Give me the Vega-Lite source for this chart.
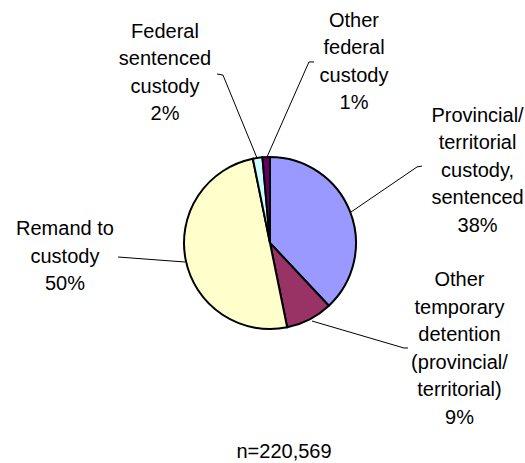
{
  "$schema": "https://vega.github.io/schema/vega-lite/v6.json",
  "autosize": {"type": "none"},
  "width": 510,
  "height": 440,
  "padding": {"left": 15, "top": 23, "right": 0, "bottom": 0},
  "background": "white",
  "view": {"stroke": null},
  "config": {"font": "Liberation Sans"},
  "datasets": {
    "slices": [
      {"category": "Provincial/territorial custody, sentenced", "pct": 38.0, "ord": 1},
      {"category": "Other temporary detention (provincial/territorial)", "pct": 8.8, "ord": 2},
      {"category": "Remand to custody", "pct": 50.0, "ord": 3},
      {"category": "Federal sentenced custody", "pct": 1.8, "ord": 4},
      {"category": "Other federal custody", "pct": 1.4, "ord": 5}
    ],
    "leaders": [
      {"label": "fed", "seq": 1, "x": -61.6, "y": 196.5},
      {"label": "fed", "seq": 2, "x": -54.7, "y": 195.3},
      {"label": "fed", "seq": 3, "x": -15.1, "y": 98.8},
      {"label": "ofed", "seq": 1, "x": 51.2, "y": 210.5},
      {"label": "ofed", "seq": 2, "x": 45.3, "y": 210.5},
      {"label": "ofed", "seq": 3, "x": -3.5, "y": 100},
      {"label": "prov", "seq": 1, "x": 94.2, "y": 36},
      {"label": "prov", "seq": 2, "x": 170.9, "y": 88.4},
      {"label": "prov", "seq": 3, "x": 176.7, "y": 89.5},
      {"label": "temp", "seq": 1, "x": 48.8, "y": -90.7},
      {"label": "temp", "seq": 2, "x": 155.8, "y": -122.1},
      {"label": "temp", "seq": 3, "x": 160.5, "y": -122.1},
      {"label": "rem", "seq": 1, "x": -176.7, "y": -16.3},
      {"label": "rem", "seq": 2, "x": -98.8, "y": -22.1}
    ],
    "labels": [
      {"text": "Federal\nsentenced\ncustody\n2%", "x": -122.1, "y": 238.4},
      {"text": "Other\nfederal\ncustody\n1%", "x": 97.7, "y": 251.5},
      {"text": "Provincial/\nterritorial\ncustody,\nsentenced\n38%", "x": 241.3, "y": 141},
      {"text": "Other\ntemporary\ndetention\n(provincial/\nterritorial)\n9%", "x": 220.3, "y": -50},
      {"text": "Remand to\ncustody\n50%", "x": -238.4, "y": 9.3},
      {"text": "n=220,569", "x": 16.3, "y": -250.3}
    ]
  },
  "layer": [
    {
      "data": {"name": "slices"},
      "mark": {"type": "arc", "outerRadius": 86, "stroke": "black", "strokeWidth": 2},
      "encoding": {
        "theta": {"field": "pct", "type": "quantitative", "stack": true},
        "order": {"field": "ord", "type": "quantitative"},
        "color": {
          "field": "category",
          "type": "nominal",
          "legend": null,
          "scale": {
            "domain": [
              "Provincial/territorial custody, sentenced",
              "Other temporary detention (provincial/territorial)",
              "Remand to custody",
              "Federal sentenced custody",
              "Other federal custody"
            ],
            "range": ["#9999FF", "#993366", "#FFFFCC", "#CCFFFF", "#660066"]
          }
        }
      }
    },
    {
      "data": {"name": "leaders"},
      "mark": {"type": "line", "stroke": "black", "strokeWidth": 1},
      "encoding": {
        "x": {"field": "x", "type": "quantitative", "axis": null, "scale": {"domain": [-296.5, 296.5], "nice": false, "zero": false}},
        "y": {"field": "y", "type": "quantitative", "axis": null, "scale": {"domain": [-255.8, 255.8], "nice": false, "zero": false}},
        "detail": {"field": "label", "type": "nominal"},
        "order": {"field": "seq", "type": "quantitative"}
      }
    },
    {
      "data": {"name": "labels"},
      "mark": {"type": "text", "fontSize": 20, "lineHeight": 27.5, "lineBreak": "\n", "align": "center", "baseline": "alphabetic", "color": "black"},
      "encoding": {
        "x": {"field": "x", "type": "quantitative"},
        "y": {"field": "y", "type": "quantitative"},
        "text": {"field": "text", "type": "nominal"}
      }
    }
  ]
}
